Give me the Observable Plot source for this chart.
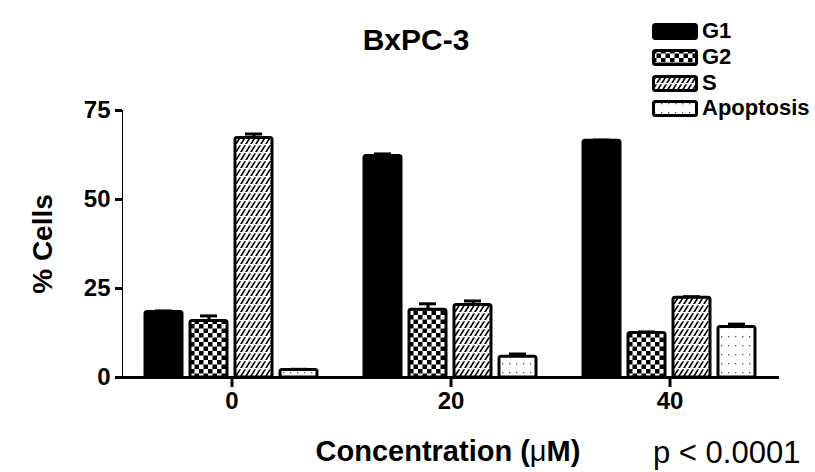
<!DOCTYPE html>
<html><head><meta charset="utf-8">
<script src="https://cdn.jsdelivr.net/npm/d3@7"></script>
<script src="https://cdn.jsdelivr.net/npm/@observablehq/plot@0.6"></script>
<style>
body{margin:0;background:#fff;}
#wrap{position:relative;width:815px;height:472px;font-family:"Liberation Sans",Arial,sans-serif;color:#000;}
#wrap svg [aria-label="y-axis label"]{font-size:28px;}
#wrap svg [aria-label="y-axis tick"], #wrap svg [aria-label="fx-axis tick"]{stroke-width:3px;}
.ann{position:absolute;line-height:1;white-space:nowrap;}
.lg{position:absolute;left:652px;height:22px;display:flex;align-items:center;gap:4px;font-size:22px;font-weight:bold;line-height:22px;}
</style></head><body><div id="wrap"></div>
<script>
const concentrations = ["0", "20", "40"];
const phases = ["G1", "G2", "S", "Apoptosis"];
const g1Mean = [18.4, 62.2, 66.5];
const g1Err = [0.3, 0.6, 0.2];
const g2Mean = [15.9, 19.0, 12.5];
const g2Err = [1.4, 1.7, 0.3];
const sMean = [67.3, 20.4, 22.4];
const sErr = [1.1, 1.1, 0.3];
const apoMean = [2.1, 5.8, 14.2];
const apoErr = [0.2, 0.8, 0.8];
const yTicks = [0, 25, 50, 75];
const patternFills = ["black", "url(#pat-g2)", "url(#pat-s)", "url(#pat-apo)"];

const means = [g1Mean, g2Mean, sMean, apoMean];
const errs = [g1Err, g2Err, sErr, apoErr];
const data = [];
concentrations.forEach((c, ci) => {
  phases.forEach((p, pi) => {
    data.push({conc: c, phase: p, mean: means[pi][ci], err: errs[pi][ci]});
  });
});

const plot = Plot.plot({
  width: 815,
  height: 472,
  marginLeft: 121,
  marginRight: 35,
  marginTop: 110,
  marginBottom: 95,
  style: {fontFamily: '"Liberation Sans", Arial, sans-serif', fontSize: "24px", fontWeight: "bold", color: "black", background: "white", overflow: "visible"},
  fx: {domain: concentrations, padding: 0, label: null, tickSize: 10, tickPadding: 4},
  x: {domain: phases, axis: null, paddingInner: 0.174, paddingOuter: 0.4745},
  y: {domain: [0, 75], ticks: yTicks, tickSize: 7, tickPadding: 5, line: true, label: "% Cells", labelAnchor: "center", labelOffset: 90, labelArrow: "none"},
  color: {domain: phases, range: patternFills, type: "ordinal"},
  marks: [
    Plot.barY(data, {fx: "conc", x: "phase", y: "mean", fill: "phase", stroke: "black", strokeWidth: 3, rx: 2}),
    Plot.ruleX(data, {fx: "conc", x: "phase", y1: "mean", y2: d => d.mean + d.err, stroke: "black", strokeWidth: 3}),
    Plot.tickY(data, {fx: "conc", x: "phase", y: d => d.mean + d.err, stroke: "black", strokeWidth: 3, insetLeft: 10, insetRight: 10}),
    Plot.ruleY([0], {stroke: "black", strokeWidth: 3})
  ]
});

const svg = d3.select(plot);
const defs = svg.insert("defs", ":first-child");
// G2: checkerboard
const pg2 = defs.append("pattern").attr("id", "pat-g2").attr("patternUnits", "userSpaceOnUse").attr("width", 9).attr("height", 9);
pg2.append("rect").attr("width", 9).attr("height", 9).attr("fill", "white");
pg2.append("rect").attr("width", 4.5).attr("height", 4.5).attr("fill", "black");
pg2.append("rect").attr("x", 4.5).attr("y", 4.5).attr("width", 4.5).attr("height", 4.5).attr("fill", "black");
// S: broken diagonal hatching
const ps = defs.append("pattern").attr("id", "pat-s").attr("patternUnits", "userSpaceOnUse").attr("width", 5).attr("height", 8);
ps.append("rect").attr("width", 5).attr("height", 8).attr("fill", "white");
ps.append("path").attr("d", "M-1.25,10 L6.25,-2 M-6.25,10 L1.25,-2 M3.75,10 L11.25,-2").attr("stroke", "black").attr("stroke-width", 1.7);
ps.append("rect").attr("y", 0).attr("width", 5).attr("height", 1.3).attr("fill", "white");
// Apoptosis: sparse dots
const pa = defs.append("pattern").attr("id", "pat-apo").attr("patternUnits", "userSpaceOnUse").attr("width", 7).attr("height", 9);
pa.append("rect").attr("width", 7).attr("height", 9).attr("fill", "white");
pa.append("rect").attr("x", 2).attr("y", 3).attr("width", 1.3).attr("height", 1.3).attr("fill", "#555");

const wrap = document.getElementById("wrap");
wrap.appendChild(plot);

function ann(text, style) {
  const d = document.createElement("div");
  d.className = "ann";
  d.innerHTML = text;
  Object.assign(d.style, style);
  wrap.appendChild(d);
}
ann("BxPC-3", {left: "416px", top: "25px", transform: "translateX(-50%)", fontSize: "30px", fontWeight: "bold"});
ann('Concentration (<span style="font-weight:normal">μ</span>M)', {left: "448px", top: "437px", transform: "translateX(-50%)", fontSize: "29px", fontWeight: "bold"});
ann("p &lt; 0.0001", {left: "653px", top: "437px", fontSize: "31px", fontWeight: "normal"});

const rowCenters = [31, 57, 83, 108];
phases.forEach((p, i) => {
  const row = document.createElement("div");
  row.className = "lg";
  row.style.top = (rowCenters[i] - 11) + "px";
  row.innerHTML = `<svg width="46" height="17"><rect x="1.5" y="1.5" width="43" height="14" rx="2" fill="${patternFills[i]}" stroke="black" stroke-width="3"/></svg><span>${p}</span>`;
  wrap.appendChild(row);
});
</script></body></html>
